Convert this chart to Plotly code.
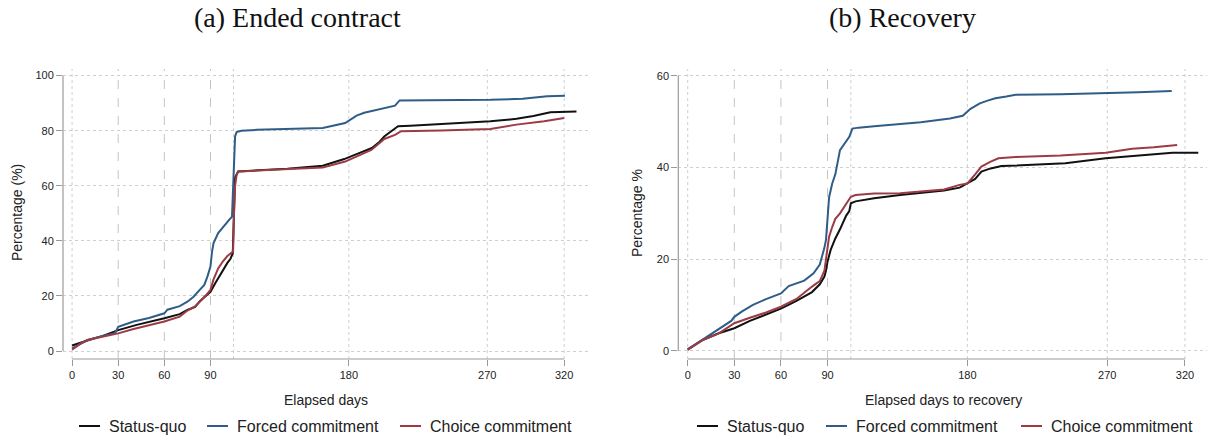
import plotly.graph_objects as go

# ---------------- data ----------------
SERIES = ["Status-quo", "Forced commitment", "Choice commitment"]
COLORS = ["#111111", "#2f5d88", "#9b3b46"]

# Panel (a) Ended contract
a_sq_x = [0, 5, 11, 20, 30, 42, 50, 60, 70, 75, 80, 83, 86, 88, 90, 93, 96, 99, 101, 103, 104.5, 105, 105.5, 106, 108,
          120, 140, 163, 177, 185, 195, 200, 203, 208, 212, 220, 244, 272, 289, 300, 311, 320, 328]
a_sq_y = [2.0, 3.0, 4.0, 5.5, 7.6, 9.5, 10.5, 11.9, 13.4, 14.9, 16.0, 18.0, 19.5, 20.5, 21.5, 24.5, 27.5, 30.5, 32, 33.5,
          35.5, 45, 57, 63, 65.2, 65.6, 66.2, 67.3, 69.7, 71.5, 73.7, 76, 77.9, 80, 81.6, 81.8, 82.5, 83.4, 84.3, 85.3,
          86.7, 86.9, 87]
a_fc_x = [0, 5, 10, 20, 28, 30, 35, 40, 50, 60, 62, 70, 75, 79, 83, 86, 88, 90, 91, 92, 95, 98, 100, 102, 104, 104.7,
          105.3, 106, 107, 110, 120, 141.7, 163, 177.6, 181, 185, 190, 198, 205, 210, 213, 240, 272, 293, 309, 320.5]
a_fc_y = [1.0, 2.5, 4.0, 5.5, 6.5, 8.8, 9.8, 10.7, 12.0, 13.7, 15.0, 16.3, 17.9, 19.7, 22.2, 24, 27, 30.7, 36, 39.2,
          42.8, 45, 46.4, 47.5, 48.8, 60, 72, 77.9, 79.5, 80, 80.3, 80.7, 81, 82.8, 84, 85.5, 86.5, 87.6, 88.3, 89.1,
          91.0, 91.1, 91.2, 91.6, 92.5, 92.7]
a_cc_x = [0, 5, 10, 20, 30, 40, 50, 60, 70, 75, 80, 83, 86, 88, 90, 92, 95, 98, 101, 103, 104.7, 105.3, 106, 107, 108,
          120, 141.7, 163, 177.6, 185, 194.6, 200, 203, 210, 214, 240, 272, 289, 300, 307, 320]
a_cc_y = [0.5, 2.5, 4.0, 5.2, 6.4, 8.0, 9.3, 10.7, 12.5, 14.7, 16.2, 17.9, 19.5, 20.8, 22.2, 26, 30, 32.5, 34.5, 35.3,
          36.1, 50, 60, 64, 65.2, 65.5, 66.1, 66.6, 68.8, 70.5, 73, 75.5, 77, 78.5, 79.8, 80.1, 80.6, 82.2, 82.8, 83.4,
          84.6]

# Panel (b) Recovery
b_sq_x = [0, 5, 10, 20, 30, 40, 50, 60, 70, 80, 85, 88, 89, 90, 92, 95, 98, 100, 102, 104, 105, 108, 120, 136.7, 150,
          165, 175, 178, 185, 189, 195, 202, 220, 243, 269, 290, 312, 328.6]
b_sq_y = [0.3, 1.3, 2.4, 3.8, 4.9, 6.5, 7.8, 9.2, 10.9, 12.8, 14.5, 16.2, 17.5, 19.5, 22, 24.5, 26.5, 28, 29.5, 30.5,
          32.2, 32.6, 33.3, 34, 34.5, 35, 35.6, 36.2, 37.5, 39.1, 39.8, 40.3, 40.5, 40.9, 42, 42.6, 43.2, 43.2]
b_fc_x = [0, 5, 10, 20, 28, 30, 35, 42, 50, 60, 65, 75, 81, 85, 87, 88, 89, 90, 91, 93, 95, 98, 101, 104, 106, 110,
          120, 136.7, 150, 168.8, 174, 177, 182, 188, 193, 198, 205, 211, 240, 269, 290, 311.5]
b_fc_y = [0.3, 1.4, 2.6, 4.8, 6.5, 7.4, 8.6, 10, 11.2, 12.5, 14.1, 15.3, 16.9, 18.8, 21.2, 22.5, 24.2, 30, 33.5, 36.5,
          38.5, 43.8, 45.2, 46.7, 48.5, 48.7, 49.0, 49.5, 49.9, 50.7, 51, 51.3, 52.8, 54, 54.6, 55.1, 55.5, 55.9, 56,
          56.2, 56.4, 56.7]
b_cc_x = [0, 5, 10, 20, 30, 40, 50, 60, 70, 80, 85, 88, 89, 90, 91, 93, 95, 98, 101, 105, 108, 120, 136.7, 150, 165,
          175, 180, 185, 189, 195, 200, 211, 240, 269, 286, 300, 315]
b_cc_y = [0.2, 1.3, 2.4, 3.8, 6.0, 7.2, 8.3, 9.6, 11.3, 14.0, 15.2, 17.5, 19.8, 22.5, 24.9, 27, 28.8, 30, 31.5, 33.6,
          34, 34.3, 34.4, 34.7, 35.2, 36.2, 36.5, 38.5, 40.2, 41.3, 42, 42.3, 42.6, 43.2, 44.1, 44.4, 44.9]

TITLES = ["(a) Ended contract", "(b) Recovery"]
X_TITLES = ["Elapsed days", "Elapsed days to recovery"]
Y_TITLES = ["Percentage (%)", "Percentage %"]
X_TICKS = [0, 30, 60, 90, 180, 270, 320]
Y_TICKS_A = [0, 20, 40, 60, 80, 100]
Y_TICKS_B = [0, 20, 40, 60]
DASHED_X = [30, 60, 90]
DOTTED_X = [0, 105, 180, 270, 320]

W, H = 1208, 441
def px(v):  # pixel -> paper x
    return v / W
def py(v):  # pixel from top -> paper y
    return 1 - v / H

fig = go.Figure()
panels = [
    ("x", "y", [(a_sq_x, a_sq_y), (a_fc_x, a_fc_y), (a_cc_x, a_cc_y)]),
    ("x2", "y2", [(b_sq_x, b_sq_y), (b_fc_x, b_fc_y), (b_cc_x, b_cc_y)]),
]
for xa, ya, data in panels:
    for (xs, ys), name, col in zip(data, SERIES, COLORS):
        fig.add_trace(go.Scatter(x=xs, y=ys, mode="lines", name=name, xaxis=xa, yaxis=ya,
                                 line=dict(color=col, width=2), showlegend=False))

tickfont = dict(family="Liberation Sans, Arial", size=11, color="#222222")
grid_col = "#cfcfcf"
ydom = [py(359), py(69)]
common_x = dict(tickmode="array", tickvals=X_TICKS, showgrid=False, zeroline=False, showline=False,
                ticks="outside", ticklen=6, tickcolor="#9a9a9a", tickfont=tickfont)
common_y = dict(tickmode="array", showgrid=True, gridcolor=grid_col, griddash="dot", gridwidth=1,
                zeroline=False, showline=False, ticks="outside", ticklen=6, tickcolor="#9a9a9a",
                tickfont=tickfont)

fig.update_layout(
    width=W, height=H, margin=dict(l=0, r=0, t=0, b=0),
    paper_bgcolor="white", plot_bgcolor="white", showlegend=False,
    xaxis=dict(domain=[px(63), px(590)], range=[-5.9, 336.8], anchor="y", **common_x),
    yaxis=dict(domain=ydom, range=[-2.9, 102.4], anchor="x", tickvals=Y_TICKS_A, **common_y),
    xaxis2=dict(domain=[px(678.3), px(1207)], range=[-6.05, 334.2], anchor="y2", **common_x),
    yaxis2=dict(domain=ydom, range=[-1.81, 61.5], anchor="x2", tickvals=Y_TICKS_B, **common_y),
)

shapes = []
for xa, ya, yt in [("x", "y", Y_TICKS_A), ("x2", "y2", Y_TICKS_B)]:
    for v in DASHED_X:
        shapes.append(dict(type="line", xref=xa, yref=ya + " domain", x0=v, x1=v, y0=0, y1=1,
                           line=dict(color="#c4c4c4", width=1, dash="dash"), layer="below"))
    for v in DOTTED_X:
        shapes.append(dict(type="line", xref=xa, yref=ya + " domain", x0=v, x1=v, y0=0, y1=1,
                           line=dict(color=grid_col, width=1, dash="dot"), layer="below"))
    # offset axis lines spanning the tick range
    shapes.append(dict(type="line", xref=xa, yref=ya + " domain", x0=min(X_TICKS), x1=max(X_TICKS), y0=0, y1=0,
                       line=dict(color="#9a9a9a", width=1.2)))
    shapes.append(dict(type="line", xref=xa + " domain", yref=ya, x0=0, x1=0, y0=min(yt), y1=max(yt),
                       line=dict(color="#9a9a9a", width=1.2)))

ann = []
lab_font = dict(family="Liberation Sans, Arial", size=14, color="#222222")
leg_font = dict(family="Liberation Sans, Arial", size=16, color="#222222")
# legend item starting pixels (line start) for each panel
LEG_START = [[79, 207, 400], [697, 826, 1021]]
LEG_Y = 426
for i, (cx, ycx) in enumerate([(326, 17), (943, 637)]):
    ann.append(dict(text=TITLES[i], xref="paper", yref="paper", x=px([297, 902][i]), y=py(17),
                    showarrow=False, xanchor="center", yanchor="middle",
                    font=dict(family="Liberation Serif, Times New Roman, serif", size=28, color="#111111")))
    ann.append(dict(text=X_TITLES[i], xref="paper", yref="paper", x=px(cx), y=py(400),
                    showarrow=False, xanchor="center", yanchor="middle", font=lab_font))
    ann.append(dict(text=Y_TITLES[i], xref="paper", yref="paper", x=px(ycx), y=py(213),
                    showarrow=False, xanchor="center", yanchor="middle", textangle=-90, font=lab_font))
    for name, col, x0 in zip(SERIES, COLORS, LEG_START[i]):
        shapes.append(dict(type="line", xref="paper", yref="paper", x0=px(x0), x1=px(x0 + 21),
                           y0=py(LEG_Y), y1=py(LEG_Y), line=dict(color=col, width=2)))
        ann.append(dict(text=name, xref="paper", yref="paper", x=px(x0 + 28), y=py(LEG_Y),
                        showarrow=False, xanchor="left", yanchor="middle", font=leg_font))
fig.update_layout(annotations=ann, shapes=shapes)

fig.write_html("out.html")
